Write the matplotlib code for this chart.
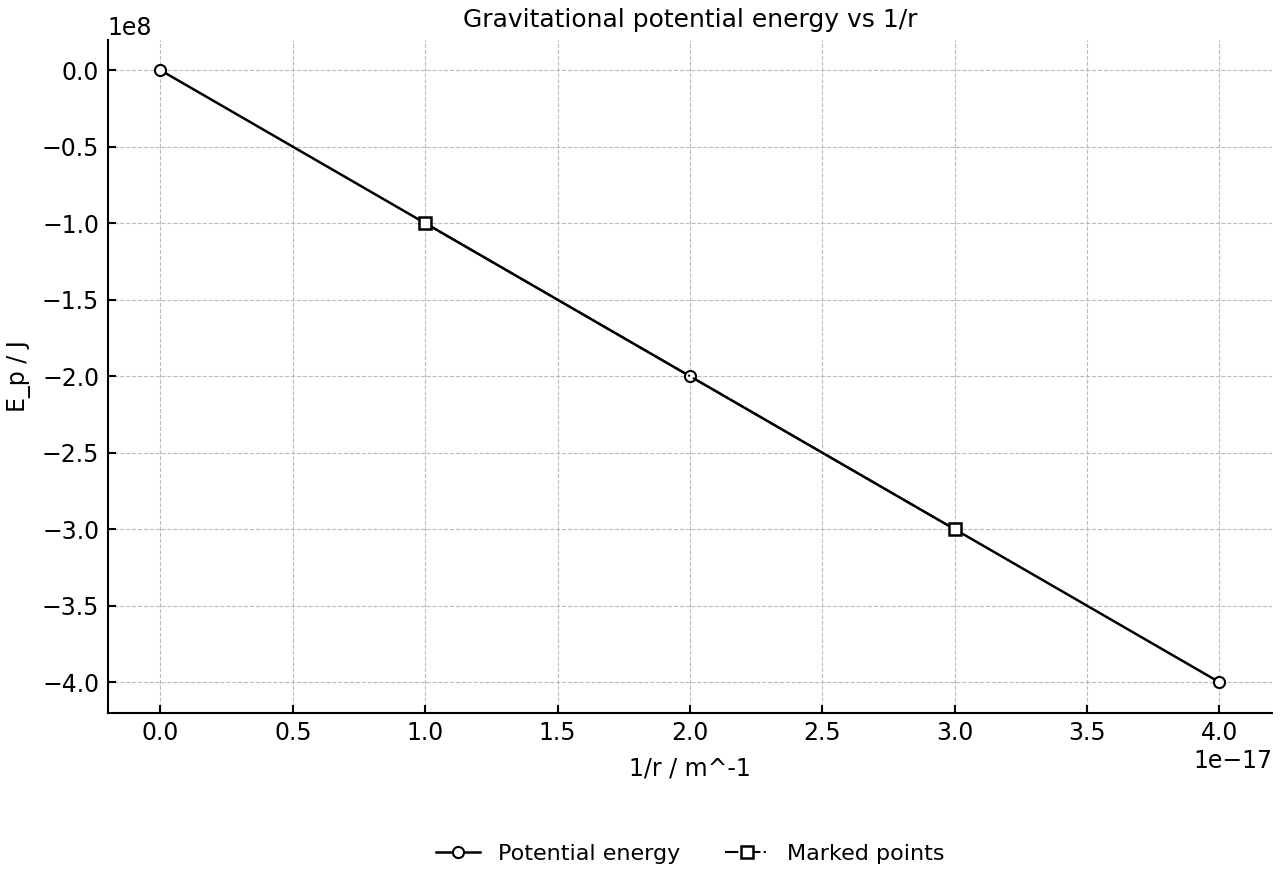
import matplotlib
matplotlib.use("Agg")
import matplotlib.pyplot as plt
import numpy as np

# Donnees
inv_r = [0.0, 1e-17, 2e-17, 3e-17, 4e-17]
energie = [0.0, -1e8, -2e8, -3e8, -4e8]
inv_r_marques = [1e-17, 3e-17]
energie_marques = [-1e8, -3e8]

plt.rcParams['font.size'] = 16

fig, ax = plt.subplots(figsize=(12.8, 8.8), dpi=100)

ax.plot(inv_r, energie, color='black', linewidth=1.8, marker='o',
        markersize=8, markerfacecolor='white', markeredgewidth=1.5,
        label='Potential energy')
ax.plot(inv_r_marques, energie_marques, color='black', linewidth=1.5,
        linestyle='-.', marker='s', markersize=8, markerfacecolor='white',
        markeredgewidth=1.8, label='Marked points')

ax.set_title('Gravitational potential energy vs 1/r', fontsize=18, pad=9)
ax.set_xlabel('1/r / m^-1', fontsize=17, labelpad=8)
ax.set_ylabel('E_p / J', fontsize=17, labelpad=8)

ax.set_xlim(-0.2e-17, 4.2e-17)
ax.set_ylim(-4.2e8, 0.2e8)
ax.set_xticks(np.arange(0, 4.01e-17, 0.5e-17))
ax.set_yticks(np.arange(-4e8, 0.01e8, 0.5e8))

ax.grid(True, linestyle='--', color='#bbbbbb', linewidth=0.8)
ax.tick_params(direction='in', length=6, width=1.5, labelsize=17, pad=6)
ax.spines['top'].set_visible(False)
ax.spines['right'].set_visible(False)
ax.spines['left'].set_linewidth(1.5)
ax.spines['bottom'].set_linewidth(1.5)
ax.xaxis.get_offset_text().set_fontsize(17)
ax.yaxis.get_offset_text().set_fontsize(17)

ax.legend(loc='upper center', bbox_to_anchor=(0.5, -0.165), ncol=2,
          frameon=False, fontsize=16)

fig.subplots_adjust(left=0.084, right=0.994, top=0.955, bottom=0.19)
fig.savefig('out.png', dpi=100)
